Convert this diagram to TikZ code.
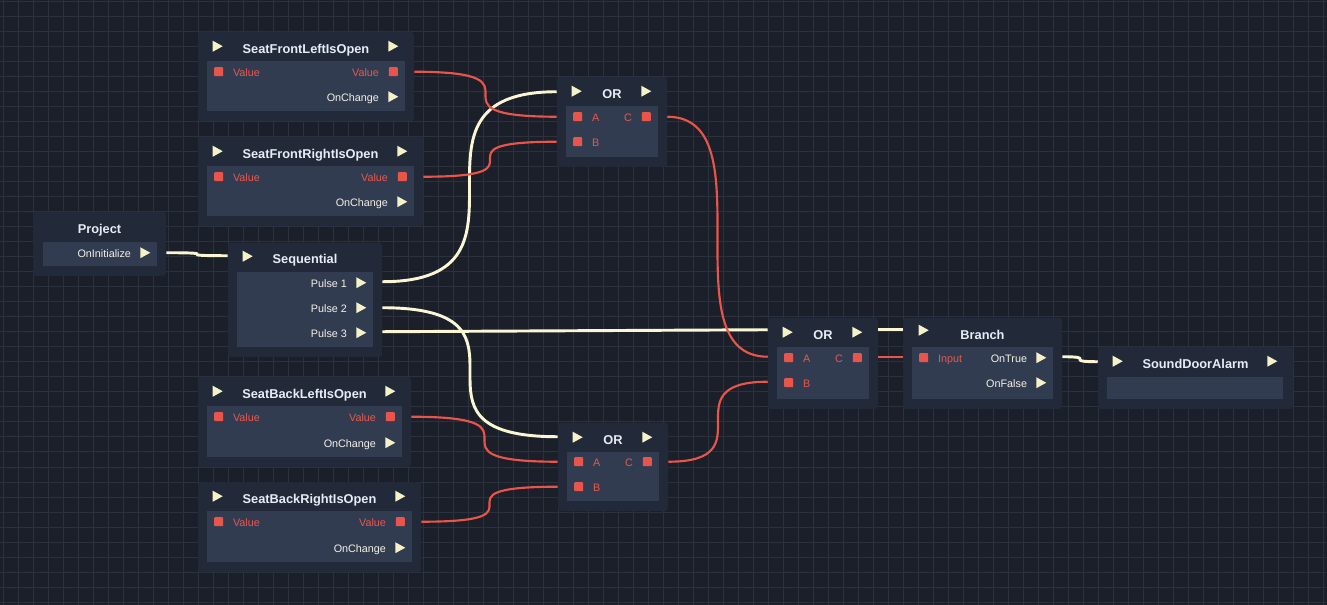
\documentclass[tikz,border=0pt]{standalone}
\usepackage{fontspec}
\setmainfont{Liberation Sans}
\usetikzlibrary{calc,fit}
\definecolor{bgc}{HTML}{1B1F29}
\definecolor{gridc}{HTML}{2B313D}
\definecolor{outerc}{HTML}{222A39}
\definecolor{innerc}{HTML}{323C51}
\definecolor{cream}{HTML}{F6F2C8}
\definecolor{wirec}{HTML}{FBF6D4}
\definecolor{pinred}{HTML}{EA554B}
\definecolor{redtxt}{HTML}{E5584E}
\definecolor{ttltxt}{HTML}{E6EDF7}
\definecolor{wtxt}{HTML}{F3F1E6}
\tikzset{
  outerbox/.style={fill=outerc, rounded corners=2pt, inner sep=0pt},
  ttl/.style={text=ttltxt, font=\fontsize{9.6pt}{11pt}\selectfont\bfseries, inner sep=0pt, anchor=mid, yshift=-1.5pt},
  redlbl/.style={text=redtxt, font=\fontsize{8.1pt}{9pt}\selectfont, inner sep=0pt, yshift=-1.2pt},
  wlbl/.style={text=wtxt, font=\fontsize{8.1pt}{9pt}\selectfont, inner sep=0pt, yshift=-1.2pt},
  redwire/.style={draw=pinred, line width=1.6pt},
  execwire/.style={draw=wirec, line width=2.2pt},
  tri/.pic={\fill[cream] (-5,-5.5) -- (5,0) -- (-5,5.5) -- cycle;},
  sq/.pic={\fill[pinred, rounded corners=0.6pt] (-4.5,-4.5) rectangle (4.5,4.5);}
}
\newcommand\nbox[5]{%
  \node[outerbox, fit={(#2,#3) (#4,#5)}] (#1) {};
  \fill[innerc] (#2+9,#3+29) rectangle (#4-9,#5-10);}
\newcommand\Head[2]{%
  \node[ttl] at ($(#1.north)+(0,16)$) {#2};
  \pic at ($(#1.north west)+(20,14.5)$) {tri};
  \pic at ($(#1.north east)+(-21,14.5)$) {tri};}
\newcommand\Lsq[3]{%
  \pic at ($(#1.north west)+(21,#2)$) {sq};
  \node[redlbl,anchor=mid west] at ($(#1.north west)+(35,#2)$) {#3};}
\newcommand\Rsq[3]{%
  \pic at ($(#1.north east)+(-21,#2)$) {sq};
  \node[redlbl,anchor=mid east] at ($(#1.north east)+(-35,#2)$) {#3};}
\newcommand\Rtri[3]{%
  \pic at ($(#1.north east)+(-21,#2)$) {tri};
  \node[wlbl,anchor=mid east] at ($(#1.north east)+(-35,#2)$) {#3};}
\newcommand\wire[4]{\draw[#1] (#2) .. controls +(#4,0) and +(-#4,0) .. (#3);}
\begin{document}
\begin{tikzpicture}[x=0.75pt,y=-0.75pt]
\useasboundingbox (0,0) rectangle (1327,605);
\fill[bgc] (0,0) rectangle (1327,605);
\foreach \i in {0,...,88} \draw[gridc, line width=0.75pt] (3+15*\i,0) -- (3+15*\i,605);
\foreach \i in {0,...,40} \draw[gridc, line width=0.75pt] (0,2+15*\i) -- (1327,2+15*\i);

% SeatFrontLeftIsOpen
\nbox{sfl}{198}{32}{414}{121}
\Head{sfl}{SeatFrontLeftIsOpen}
\Lsq{sfl}{40}{Value}
\Rsq{sfl}{40}{Value}
\Rtri{sfl}{65}{OnChange}
\coordinate (sfl-v) at ($(sfl.north east)+(0,40)$);

% SeatFrontRightIsOpen
\nbox{sfr}{198}{137}{423}{226}
\Head{sfr}{SeatFrontRightIsOpen}
\Lsq{sfr}{40}{Value}
\Rsq{sfr}{40}{Value}
\Rtri{sfr}{65}{OnChange}
\coordinate (sfr-v) at ($(sfr.north east)+(0,40)$);

% Project
\node[outerbox, fit={(33,212) (166,276)}] (prj) {};
\fill[innerc] (43,242) rectangle (157,266);
\node[ttl] at ($(prj.north)+(0,16)$) {Project};
\Rtri{prj}{41}{OnInitialize}
\coordinate (prj-o) at ($(prj.north east)+(0,41)$);

% Sequential
\nbox{seq}{228}{243}{382}{357}
\node[ttl] at ($(seq.north)+(0,15)$) {Sequential};
\pic at ($(seq.north west)+(20,13.5)$) {tri};
\Rtri{seq}{40}{Pulse 1}
\Rtri{seq}{65}{Pulse 2}
\Rtri{seq}{90}{Pulse 3}
\coordinate (seq-in) at ($(seq.north west)+(0,13)$);
\coordinate (seq-p1) at ($(seq.north east)+(0,39)$);
\coordinate (seq-p2) at ($(seq.north east)+(0,65)$);
\coordinate (seq-p3) at ($(seq.north east)+(0,89)$);

% OR top
\nbox{ort}{557}{77}{667}{167}
\Head{ort}{OR}
\Lsq{ort}{40}{A}
\Rsq{ort}{40}{C}
\Lsq{ort}{65}{B}
\coordinate (ort-in) at ($(ort.north west)+(0,15)$);
\coordinate (ort-a) at ($(ort.north west)+(0,40)$);
\coordinate (ort-b) at ($(ort.north west)+(0,65)$);
\coordinate (ort-c) at ($(ort.north east)+(0,40)$);

% OR bottom
\nbox{orb}{558}{423}{668}{511}
\Head{orb}{OR}
\Lsq{orb}{39}{A}
\Rsq{orb}{39}{C}
\Lsq{orb}{64}{B}
\coordinate (orb-in) at ($(orb.north west)+(0,14)$);
\coordinate (orb-a) at ($(orb.north west)+(0,39)$);
\coordinate (orb-b) at ($(orb.north west)+(0,64)$);
\coordinate (orb-c) at ($(orb.north east)+(0,39)$);

% OR middle
\nbox{orm}{768}{318}{878}{409}
\Head{orm}{OR}
\Lsq{orm}{40}{A}
\Rsq{orm}{40}{C}
\Lsq{orm}{65}{B}
\coordinate (orm-in) at ($(orm.north west)+(0,12)$);
\coordinate (orm-a) at ($(orm.north west)+(0,39)$);
\coordinate (orm-b) at ($(orm.north west)+(0,64)$);
\coordinate (orm-o) at ($(orm.north east)+(0,12)$);
\coordinate (orm-c) at ($(orm.north east)+(0,39)$);

% Branch
\nbox{br}{903}{318}{1062}{409}
\node[ttl] at ($(br.north)+(0,16)$) {Branch};
\pic at ($(br.north west)+(21,12.5)$) {tri};
\Lsq{br}{40}{Input}
\Rtri{br}{40}{OnTrue}
\Rtri{br}{65}{OnFalse}
\coordinate (br-in) at ($(br.north west)+(0,12)$);
\coordinate (br-i) at ($(br.north west)+(0,39)$);
\coordinate (br-t) at ($(br.north east)+(0,39)$);

% SoundDoorAlarm
\node[outerbox, fit={(1098,347) (1293,409)}] (sda) {};
\fill[innerc] (1107,377) rectangle (1283,399);
\Head{sda}{SoundDoorAlarm}
\coordinate (sda-in) at ($(sda.north west)+(0,15)$);

% SeatBackLeftIsOpen
\nbox{sbl}{198}{377}{411}{467}
\Head{sbl}{SeatBackLeftIsOpen}
\Lsq{sbl}{40}{Value}
\Rsq{sbl}{40}{Value}
\Rtri{sbl}{66}{OnChange}
\coordinate (sbl-v) at ($(sbl.north east)+(0,40)$);

% SeatBackRightIsOpen
\nbox{sbr}{198}{482}{421}{572}
\Head{sbr}{SeatBackRightIsOpen}
\Lsq{sbr}{40}{Value}
\Rsq{sbr}{40}{Value}
\Rtri{sbr}{66}{OnChange}
\coordinate (sbr-v) at ($(sbr.north east)+(0,40)$);

% wires
\wire{execwire}{prj-o}{seq-in}{62}
\wire{execwire}{seq-p1}{ort-in}{175}
\wire{execwire}{seq-p2}{orb-in}{176}
\draw[execwire] (seq-p3) -- (orm-in);
\draw[execwire] (orm-o) -- (br-in);
\wire{execwire}{br-t}{sda-in}{36}
\wire{redwire}{sfl-v}{ort-a}{143}
\wire{redwire}{sfr-v}{ort-b}{134}
\wire{redwire}{sbl-v}{orb-a}{147}
\wire{redwire}{sbr-v}{orb-b}{137}
\wire{redwire}{ort-c}{orm-a}{101}
\wire{redwire}{orb-c}{orm-b}{100}
\draw[redwire] (orm-c) -- (br-i);
\end{tikzpicture}
\end{document}
